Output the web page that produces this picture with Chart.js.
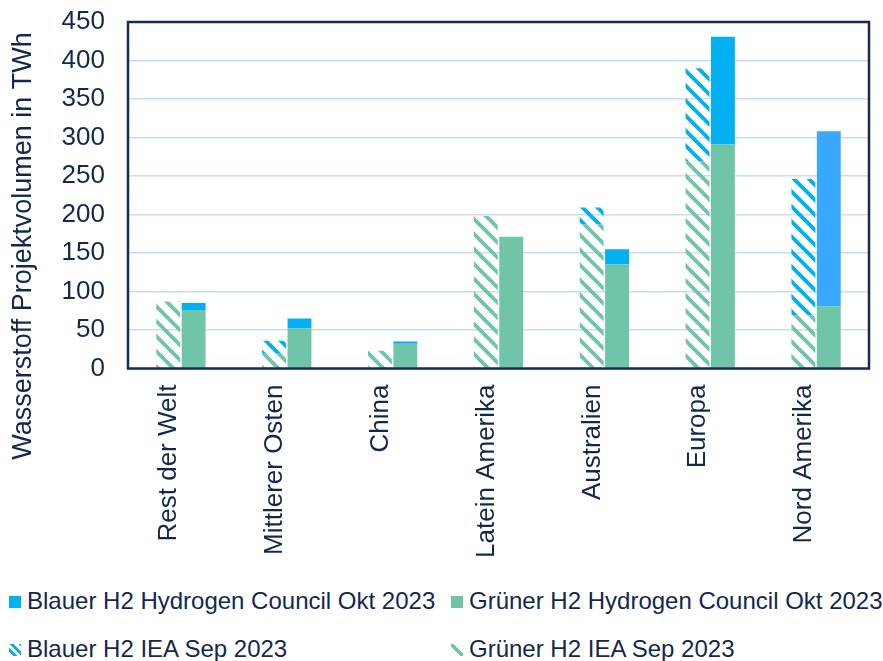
<!DOCTYPE html>
<html>
<head>
<meta charset="utf-8">
<script src="https://cdn.jsdelivr.net/npm/chart.js@4"></script>
<style>
    body { margin: 0; background: #fff; font-family: "Liberation Sans", Arial, sans-serif; }
    #wrap { position: absolute; left: 0; top: 0; width: 883px; height: 580px; }
    .legend-item { position: absolute; font-size: 24px; color: #14284b; white-space: nowrap; line-height: 24px; }
    .swatch { display: inline-block; width: 12px; height: 12px; margin-right: 6px; vertical-align: 1px; }
</style>
</head>
<body>
<div id="wrap"><canvas id="chart"></canvas></div>
<div class="legend-item" style="left:9px; top:589px;"><span class="swatch" style="background:#00b0f0"></span>Blauer H2 Hydrogen Council Okt 2023</div>
<div class="legend-item" style="left:451px; top:589px;"><span class="swatch" style="background:#70c4a8"></span>Grüner H2 Hydrogen Council Okt 2023</div>
<div class="legend-item" style="left:9px; top:637px;"><span class="swatch" style="background:repeating-linear-gradient(45deg,#fff 0 3px,#00b0f0 3px 6px)"></span>Blauer H2 IEA Sep 2023</div>
<div class="legend-item" style="left:451px; top:637px;"><span class="swatch" style="background:linear-gradient(45deg,#fff 0 40%,#70c4a8 40% 62%,#fff 62%)"></span>Grüner H2 IEA Sep 2023</div>
<script>
const regions = ["Rest der Welt", "Mittlerer Osten", "China", "Latein Amerika", "Australien", "Europa", "Nord Amerika"];
const blauHC = [9, 13, 3, 0, 20, 140, 227];
const gruenHC = [76, 52, 32, 171, 135, 291, 81];
const blauIEA = [0, 17, 0, 0, 22, 121, 177];
const gruenIEA = [87, 19, 23, 198, 187, 269, 69];
const yTicks = [0, 50, 100, 150, 200, 250, 300, 350, 400, 450];

const textColor = "#14284b";
const blue = "#00b0f0";
const green = "#70c4a8";

function hatch(color) {
    let c = document.createElement("canvas");
    c.width = 15;
    c.height = 15;
    let g = c.getContext("2d");
    g.strokeStyle = color;
    g.lineWidth = 3.8;
    for (let o = -15; o <= 15; o += 15) {
        g.beginPath();
        g.moveTo(o - 2, -2);
        g.lineTo(o + 17, 17);
        g.stroke();
    }
    return g.createPattern(c, "repeat");
}

// blue of Nord Amerika council bar is a bit lighter in the original
let blauHCColors = regions.map((r, i) => i === 6 ? "#38a9ff" : blue);

const frame = {
    id: "frame",
    afterDraw(chart) {
        let ctx = chart.ctx;
        let a = chart.chartArea;
        ctx.save();
        ctx.strokeStyle = "#152b52";
        ctx.lineWidth = 2.5;
        ctx.strokeRect(a.left, a.top, a.right - a.left, a.bottom - a.top);
        ctx.translate(24, 246);
        ctx.rotate(-Math.PI / 2);
        ctx.fillStyle = textColor;
        ctx.font = "27px 'Liberation Sans', Arial, sans-serif";
        ctx.textAlign = "center";
        ctx.textBaseline = "middle";
        ctx.fillText("Wasserstoff Projektvolumen in TWh", 0, 0);
        ctx.restore();
    }
};

new Chart(document.getElementById("chart"), {
    type: "bar",
    data: {
        labels: regions,
        datasets: [
            { label: "Blauer H2 Hydrogen Council Okt 2023", data: blauHC, backgroundColor: blauHCColors, stack: "hc", order: 3 },
            { label: "Grüner H2 Hydrogen Council Okt 2023", data: gruenHC, backgroundColor: green, stack: "hc", order: 2 },
            { label: "Blauer H2 IEA Sep 2023", data: blauIEA, backgroundColor: hatch(blue), stack: "iea", order: 1 },
            { label: "Grüner H2 IEA Sep 2023", data: gruenIEA, backgroundColor: hatch(green), stack: "iea", order: 0 }
        ]
    },
    options: {
        responsive: true,
        maintainAspectRatio: false,
        animation: false,
        layout: { padding: { top: 22, right: 14, left: 0, bottom: 0 } },
        datasets: { bar: { categoryPercentage: 0.48, barPercentage: 0.94 } },
        plugins: { legend: { display: false }, tooltip: { enabled: false } },
        scales: {
            x: {
                stacked: true,
                grid: { display: false, drawTicks: false },
                border: { display: false },
                afterFit: s => { s.height = 211.5; s.paddingLeft = 0; s.paddingRight = 0; },
                ticks: {
                    color: textColor,
                    font: { family: "'Liberation Sans', Arial", size: 26 },
                    minRotation: 90,
                    maxRotation: 90,
                    padding: 16,
                    labelOffset: -12,
                    autoSkip: false
                }
            },
            y: {
                stacked: true,
                min: 0,
                max: 450,
                afterFit: s => { s.width = 128; s.paddingTop = 0; s.paddingBottom = 0; },
                afterBuildTicks: s => { s.ticks = yTicks.map(v => ({ value: v })); },
                grid: { color: "#ccdcf4", lineWidth: 1.5, drawTicks: false },
                border: { display: false },
                ticks: {
                    color: textColor,
                    font: { family: "'Liberation Sans', Arial", size: 26 },
                    padding: 23
                }
            }
        }
    },
    plugins: [frame]
});
</script>
</body>
</html>
